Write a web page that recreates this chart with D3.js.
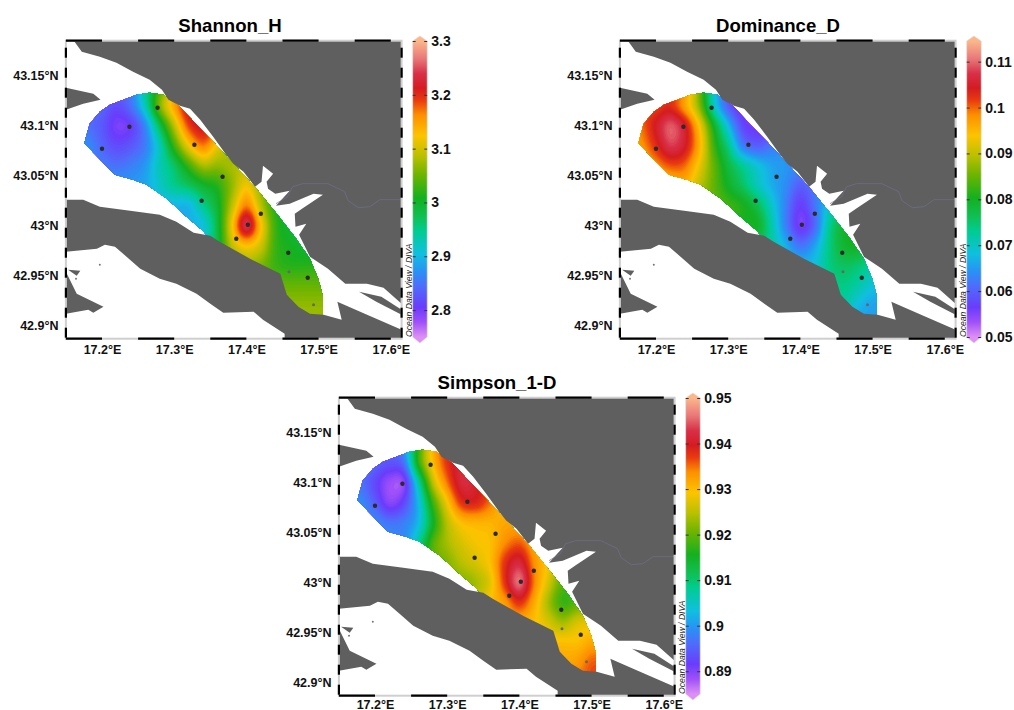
<!DOCTYPE html>
<html>
<head>
<meta charset="utf-8">
<script src="https://cdn.jsdelivr.net/npm/d3@7"></script>
<style>
    body { margin: 0; background: #fff; }
    text { font-family: "Liberation Sans", Arial, sans-serif; }
</style>
</head>
<body>
<svg id="chart" width="1014" height="710"></svg>
<script>
// Axis ticks
const lonTicks = [17.2, 17.3, 17.4, 17.5, 17.6];
const latTicks = [43.15, 43.1, 43.05, 43, 42.95, 42.9];

// Titles and colorbars
const titles = ["Shannon_H", "Dominance_D", "Simpson_1-D"];
const shannonTicks = [3.3, 3.2, 3.1, 3, 2.9, 2.8];
const dominanceTicks = [0.11, 0.1, 0.09, 0.08, 0.07, 0.06, 0.05];
const simpsonTicks = [0.95, 0.94, 0.93, 0.92, 0.91, 0.9, 0.89];
const shannonRange = [2.75, 3.3];
const dominanceRange = [0.05, 0.1145];
const simpsonRange = [0.885, 0.95];

// Sampling stations
const stationLon = [17.277, 17.238, 17.200, 17.328, 17.367, 17.338, 17.420, 17.402, 17.386, 17.458, 17.459, 17.485, 17.493];
const stationLat = [43.118, 43.099, 43.077, 43.081, 43.049, 43.025, 43.012, 43.001, 42.987, 42.973, 42.954, 42.948, 42.921];
const faintStations = [10, 12];

// Coast outlines, [lon, lat]
const landNorth = [[17.161,43.185],[17.172,43.174],[17.197,43.169],[17.220,43.163],[17.243,43.154],[17.266,43.146],[17.283,43.136],[17.292,43.126],[17.308,43.120],[17.322,43.117],[17.336,43.106],[17.354,43.089],[17.373,43.070],[17.382,43.062],[17.396,43.054],[17.412,43.039],[17.421,43.044],[17.423,43.060],[17.437,43.052],[17.428,43.044],[17.430,43.037],[17.440,43.032],[17.460,43.035],[17.441,43.020],[17.460,43.022],[17.493,43.032],[17.506,43.031],[17.477,43.017],[17.467,43.012],[17.468,42.999],[17.483,43.002],[17.473,42.991],[17.488,42.969],[17.513,42.957],[17.537,42.942],[17.567,42.942],[17.590,42.938],[17.615,42.922],[17.615,43.185]];
const landPeninsula = [[17.150,43.026],[17.174,43.026],[17.197,43.019],[17.239,43.015],[17.280,43.011],[17.303,43.004],[17.327,42.993],[17.350,42.990],[17.363,42.984],[17.405,42.967],[17.447,42.952],[17.456,42.931],[17.472,42.919],[17.488,42.912],[17.507,42.911],[17.532,42.906],[17.526,42.924],[17.564,42.912],[17.615,42.896],[17.615,42.887],[17.453,42.887],[17.453,42.892],[17.423,42.906],[17.410,42.914],[17.368,42.913],[17.350,42.922],[17.331,42.932],[17.303,42.942],[17.280,42.947],[17.253,42.957],[17.234,42.969],[17.218,42.979],[17.204,42.981],[17.193,42.977],[17.150,42.974]];
const landWest = [[17.150,43.138],[17.188,43.132],[17.198,43.126],[17.174,43.122],[17.150,43.116]];
const landSouthWest = [[17.150,42.954],[17.165,42.932],[17.202,42.919],[17.188,42.913],[17.181,42.916],[17.150,42.912]];
const landIslet = [[17.153,42.956],[17.170,42.955],[17.165,42.950]];
const landEastWedge = [[17.556,42.934],[17.587,42.929],[17.615,42.916],[17.615,42.911],[17.580,42.924]];
const rocksLon = [17.164, 17.197];
const rocksLat = [42.947, 42.961];
const border = [[17.441,43.022],[17.457,43.029],[17.464,43.039],[17.478,43.042],[17.513,43.042],[17.536,43.034],[17.541,43.025],[17.555,43.018],[17.571,43.019],[17.585,43.026],[17.615,43.026]];

// Area the gridded field is valid in
const fieldArea = [[17.176,43.084],[17.183,43.102],[17.197,43.114],[17.211,43.121],[17.248,43.131],[17.266,43.133],[17.285,43.131],[17.308,43.119],[17.331,43.101],[17.354,43.084],[17.377,43.066],[17.414,43.037],[17.442,43.012],[17.467,42.989],[17.488,42.967],[17.500,42.946],[17.506,42.929],[17.506,42.911],[17.483,42.909],[17.451,42.926],[17.442,42.949],[17.405,42.964],[17.363,42.981],[17.350,42.987],[17.338,42.996],[17.317,43.009],[17.290,43.027],[17.262,43.041],[17.243,43.046],[17.218,43.051],[17.176,43.082]];

// Field grids: rows go north to south
const gridLon = [17.16, 17.18, 17.20, 17.22, 17.24, 17.26, 17.28, 17.30, 17.32, 17.34, 17.36, 17.38, 17.40, 17.42, 17.44, 17.46, 17.48, 17.50, 17.52];
const gridLat = [43.14, 43.12, 43.10, 43.08, 43.06, 43.04, 43.02, 43.00, 42.98, 42.96, 42.94, 42.92, 42.90];
const shannonGrid = [
    [2.86,2.85,2.85,2.84,2.86,2.95,3.03,3.12,3.20,3.22,3.20,3.18,3.15,3.10,3.05,3.05,3.05,3.05,3.05],
    [2.86,2.85,2.84,2.82,2.85,2.93,3.06,3.15,3.22,3.23,3.20,3.18,3.15,3.10,3.05,3.05,3.05,3.05,3.05],
    [2.87,2.85,2.83,2.80,2.81,2.87,2.98,3.09,3.19,3.22,3.19,3.15,3.12,3.08,3.05,3.05,3.05,3.05,3.05],
    [2.88,2.87,2.84,2.82,2.83,2.86,2.93,3.03,3.12,3.17,3.12,3.08,3.07,3.06,3.05,3.05,3.05,3.05,3.05],
    [2.88,2.87,2.86,2.85,2.86,2.88,2.93,2.97,3.03,3.08,3.07,3.08,3.09,3.07,3.05,3.05,3.05,3.05,3.05],
    [2.88,2.88,2.88,2.88,2.88,2.89,2.92,2.95,2.97,3.00,3.02,3.07,3.12,3.07,3.03,3.02,3.02,3.02,3.02],
    [2.89,2.89,2.89,2.89,2.89,2.89,2.90,2.90,2.90,2.95,3.00,3.09,3.17,3.09,3.02,3.01,3.01,3.01,3.01],
    [2.89,2.89,2.89,2.89,2.89,2.89,2.90,2.90,2.90,2.91,2.99,3.12,3.24,3.13,3.03,3.00,3.00,3.00,3.00],
    [2.90,2.90,2.90,2.90,2.90,2.90,2.90,2.90,2.91,2.93,2.99,3.09,3.13,3.10,3.03,3.01,3.00,3.00,3.00],
    [2.92,2.92,2.92,2.92,2.92,2.92,2.92,2.93,2.95,2.97,3.00,3.04,3.07,3.06,3.03,3.02,3.02,3.02,3.02],
    [2.95,2.95,2.95,2.95,2.95,2.95,2.95,2.96,2.98,3.00,3.02,3.04,3.05,3.05,3.05,3.05,3.05,3.05,3.05],
    [2.97,2.97,2.97,2.97,2.97,2.97,2.97,2.98,3.00,3.02,3.04,3.06,3.07,3.07,3.07,3.07,3.07,3.07,3.07],
    [2.98,2.98,2.98,2.98,2.98,2.98,2.98,2.99,3.01,3.03,3.05,3.07,3.08,3.08,3.08,3.08,3.08,3.08,3.08]
];
const dominanceGrid = [
    [.100,.102,.104,.104,.099,.086,.070,.061,.057,.056,.056,.058,.060,.062,.064,.066,.066,.066,.066],
    [.101,.102,.102,.103,.097,.087,.071,.060,.056,.056,.056,.058,.060,.062,.064,.066,.066,.066,.066],
    [.098,.100,.105,.1095,.105,.094,.080,.068,.058,.056,.056,.058,.060,.062,.064,.066,.066,.066,.066],
    [.096,.098,.103,.108,.105,.096,.083,.074,.063,.060,.062,.064,.065,.066,.067,.068,.068,.068,.068],
    [.094,.095,.098,.101,.100,.093,.085,.078,.073,.069,.066,.065,.064,.066,.068,.070,.070,.070,.070],
    [.092,.092,.093,.094,.095,.090,.085,.080,.076,.071,.067,.064,.060,.063,.068,.072,.072,.072,.072],
    [.088,.088,.088,.088,.088,.087,.085,.083,.081,.077,.070,.063,.057,.062,.070,.076,.077,.077,.077],
    [.085,.085,.085,.085,.085,.085,.084,.082,.080,.080,.072,.063,.056,.061,.073,.079,.080,.080,.080],
    [.082,.082,.082,.082,.082,.082,.081,.080,.078,.076,.072,.067,.062,.066,.074,.079,.080,.078,.078],
    [.078,.078,.078,.078,.078,.078,.077,.076,.074,.073,.071,.069,.068,.069,.074,.076,.075,.073,.073],
    [.074,.074,.074,.074,.074,.074,.074,.073,.072,.071,.070,.070,.070,.071,.073,.074,.072,.069,.069],
    [.072,.072,.072,.072,.072,.072,.072,.071,.071,.070,.070,.070,.070,.070,.071,.072,.068,.066,.066],
    [.070,.070,.070,.070,.070,.070,.070,.070,.069,.069,.069,.068,.068,.068,.068,.068,.066,.066,.066]
];
const simpsonGrid = [
    [.900,.898,.897,.895,.901,.917,.931,.938,.942,.942,.940,.938,.935,.932,.930,.930,.930,.930,.930],
    [.899,.898,.896,.894,.897,.917,.930,.938,.942,.943,.941,.938,.935,.932,.930,.930,.930,.930,.930],
    [.899,.897,.893,.889,.890,.907,.925,.935,.942,.941,.938,.935,.933,.932,.930,.930,.930,.930,.930],
    [.900,.899,.895,.890,.893,.903,.918,.929,.938,.939,.935,.930,.931,.931,.930,.930,.930,.930,.930],
    [.900,.899,.899,.897,.898,.903,.915,.925,.930,.931,.931,.932,.932,.931,.930,.930,.930,.930,.930],
    [.900,.900,.900,.900,.900,.908,.919,.924,.927,.929,.930,.934,.936,.932,.928,.926,.926,.926,.926],
    [.905,.905,.905,.905,.908,.915,.920,.922,.925,.927,.930,.938,.942,.934,.929,.924,.924,.924,.924],
    [.910,.910,.910,.910,.912,.917,.921,.922,.922,.924,.928,.938,.946,.935,.927,.920,.920,.920,.920],
    [.915,.915,.915,.915,.916,.918,.920,.921,.923,.926,.930,.933,.938,.932,.924,.918,.920,.922,.922],
    [.920,.920,.920,.920,.920,.921,.922,.923,.925,.928,.931,.932,.932,.930,.927,.924,.927,.928,.928],
    [.924,.924,.924,.924,.924,.925,.926,.927,.928,.930,.931,.932,.932,.931,.930,.930,.930,.932,.932],
    [.928,.928,.928,.928,.928,.928,.929,.930,.930,.931,.932,.932,.932,.932,.932,.932,.933,.936,.936],
    [.930,.930,.930,.930,.930,.930,.930,.931,.931,.932,.933,.934,.934,.934,.934,.934,.935,.937,.937]
];

// Colorbar stops, 0 = bottom and 1 = top of the bar
const colorStops = [0, 0.05, 0.10, 0.17, 0.22, 0.28, 0.36, 0.41, 0.47, 0.55, 0.61, 0.68, 0.75, 0.80, 0.84, 0.89, 0.94, 1];
const colorValues = ["#dc8ff5", "#a050f8", "#6a3cfb", "#4f6cfb", "#2a90f5", "#10bfe0", "#00cc90", "#10bf50", "#14b020", "#70b400", "#b8c000", "#fcc400", "#fc9000", "#e83a10", "#d41c20", "#d83048", "#e87878", "#fbb78a"];
const rampColor = d3.scaleLinear().domain(colorStops).range(colorValues).interpolate(d3.interpolateRgb);

const panels = [
    { title: titles[0], grid: shannonGrid, ticks: shannonTicks, range: shannonRange, dx: 0, dy: 0, lonPad: 6 },
    { title: titles[1], grid: dominanceGrid, ticks: dominanceTicks, range: dominanceRange, dx: 554, dy: 0, lonPad: 6 },
    { title: titles[2], grid: simpsonGrid, ticks: simpsonTicks, range: simpsonRange, dx: 273, dy: 357, lonPad: 4.5 }
];

const svg = d3.select("#chart");

// Map scales, shared by all panels (each panel group is translated)
const xScale = d3.scaleLinear().domain([17.15, 17.615]).range([65.9, 401.6]);
const yScale = d3.scaleLinear().domain([42.887, 43.185]).range([338.7, 40.7]);
const outline = d3.line().x(d => xScale(d[0])).y(d => yScale(d[1]));

function cubic(a, b, c, d, t) {
    return 0.5 * (2 * b + (c - a) * t + (2 * a - 5 * b + 4 * c - d) * t * t + (3 * b - a - 3 * c + d) * t * t * t);
}

// Resample the read grid finer so the contours come out smooth
const refine = 5;
function refineGrid(grid) {
    const ny = grid.length, nx = grid[0].length;
    const w = (nx - 1) * refine + 1, h = (ny - 1) * refine + 1;
    const at = (r, c) => grid[Math.max(0, Math.min(ny - 1, r))][Math.max(0, Math.min(nx - 1, c))];
    const out = new Array(w * h);
    for (let j = 0; j < h; j++) {
        const r = Math.floor(j / refine), tr = j / refine - r;
        for (let i = 0; i < w; i++) {
            const c = Math.floor(i / refine), tc = i / refine - c;
            const col = [-1, 0, 1, 2].map(k => cubic(at(r + k, c - 1), at(r + k, c), at(r + k, c + 1), at(r + k, c + 2), tc));
            out[j * w + i] = cubic(col[0], col[1], col[2], col[3], tr);
        }
    }
    return { values: out, w: w, h: h };
}

const dLon = gridLon[1] - gridLon[0];
const dLat = gridLat[0] - gridLat[1];
const contourPath = d3.geoPath(d3.geoTransform({
    point: function(x, y) {
        this.stream.point(
            xScale(gridLon[0] + (x - 0.5) / refine * dLon),
            yScale(gridLat[0] - (y - 0.5) / refine * dLat)
        );
    }
}));

panels.forEach(function(p, n) {
    const g = svg.append("g").attr("transform", `translate(${p.dx},${p.dy})`);

    // Title
    g.append("text")
        .attr("x", n === 0 ? 230 : 224)
        .attr("y", 32)
        .attr("text-anchor", "middle")
        .attr("font-size", 18.6)
        .attr("font-weight", "bold")
        .text(p.title);

    // Field, clipped to its valid area
    const clipId = "field-clip-" + n;
    g.append("clipPath").attr("id", clipId).append("path").attr("d", outline(fieldArea) + "Z");
    const t = v => (v - p.range[0]) / (p.range[1] - p.range[0]);
    const fine = refineGrid(p.grid);
    const thresholds = d3.range(0, 120).map(i => p.range[0] + (p.range[1] - p.range[0]) * i / 120);
    const contours = d3.contours().size([fine.w, fine.h]).thresholds(thresholds)(fine.values);
    g.append("g")
        .attr("clip-path", `url(#${clipId})`)
        .selectAll("path")
        .data(contours)
        .enter()
        .append("path")
        .attr("d", contourPath)
        .attr("fill", d => rampColor(t(d.value)));

    // Land on top of the field
    g.append("g")
        .selectAll("path")
        .data([landNorth, landPeninsula, landWest, landSouthWest, landIslet, landEastWedge])
        .enter()
        .append("path")
        .attr("d", d => outline(d) + "Z")
        .attr("fill", "#5f5f5f");
    g.selectAll(".rock")
        .data(rocksLon)
        .enter()
        .append("circle")
        .attr("class", "rock")
        .attr("cx", d => xScale(d))
        .attr("cy", (d, i) => yScale(rocksLat[i]))
        .attr("r", 1)
        .attr("fill", "#777");
    g.append("path")
        .attr("d", outline(border))
        .attr("fill", "none")
        .attr("stroke", "#70708a")
        .attr("stroke-width", 0.7);

    // Stations
    g.selectAll(".dot")
        .data(stationLon)
        .enter()
        .append("circle")
        .attr("class", "dot")
        .attr("cx", d => xScale(d))
        .attr("cy", (d, i) => yScale(stationLat[i]))
        .attr("r", (d, i) => faintStations.includes(i) ? 1.5 : 2.2)
        .attr("fill", (d, i) => faintStations.includes(i) ? "#666" : "#2b2b2b");

    // Frame: grey box with black dashes
    const [x0, x1] = xScale.range();
    const [y0, y1] = yScale.range();
    g.append("rect")
        .attr("x", x0).attr("y", y1)
        .attr("width", x1 - x0).attr("height", y0 - y1)
        .attr("fill", "none")
        .attr("stroke", "#cfcfcf")
        .attr("stroke-width", 2);
    d3.range(17.15, 17.6, 0.1).forEach(function(lon) {
        [y0, y1].forEach(function(y) {
            g.append("line")
                .attr("x1", xScale(lon)).attr("x2", xScale(lon + 0.05))
                .attr("y1", y).attr("y2", y)
                .attr("stroke", "#000").attr("stroke-width", 2.2);
        });
    });
    d3.range(42.888, 43.17, 0.02).forEach(function(lat) {
        [x0, x1].forEach(function(x) {
            g.append("line")
                .attr("x1", x).attr("x2", x)
                .attr("y1", yScale(lat)).attr("y2", yScale(lat + 0.01))
                .attr("stroke", "#000").attr("stroke-width", 2.2);
        });
    });

    // Axes
    const xAxis = d3.axisBottom(xScale).tickValues(lonTicks).tickFormat(d => d + "°E").tickSize(0).tickPadding(p.lonPad);
    const yAxis = d3.axisLeft(yScale).tickValues(latTicks).tickFormat(d => d + "°N").tickSize(0).tickPadding(7.4);
    [g.append("g").attr("transform", `translate(0,${y0})`).call(xAxis),
     g.append("g").attr("transform", `translate(${x0},0)`).call(yAxis)].forEach(function(a) {
        a.select(".domain").remove();
        a.selectAll("text").attr("font-size", 12.5).attr("font-weight", "bold").attr("font-family", null).attr("fill", "#111");
    });

    // Credit
    g.append("text")
        .attr("transform", "translate(412,337) rotate(-90)")
        .attr("font-size", 8.6)
        .attr("font-style", "italic")
        .attr("fill", "#222")
        .text("Ocean Data View / DIVA");

    // Colorbar
    const barY = d3.scaleLinear().domain(p.range).range([337, 41]);
    const gradId = "bar-grad-" + n;
    const grad = g.append("linearGradient")
        .attr("id", gradId)
        .attr("x1", 0).attr("x2", 0).attr("y1", 1).attr("y2", 0)
        .attr("gradientUnits", "objectBoundingBox");
    // the bar shape runs 6px past each end of the ramp
    const shapeTop = 36, shapeBottom = 343;
    colorStops.forEach(function(s, i) {
        const y = 337 - s * 296;
        grad.append("stop")
            .attr("offset", (shapeBottom - y) / (shapeBottom - shapeTop))
            .attr("stop-color", colorValues[i]);
    });
    g.append("path")
        .attr("d", `M412.7,41 L419.9,${shapeTop} L427.2,41 L427.2,337 L419.9,${shapeBottom} L412.7,337 Z`)
        .attr("fill", `url(#${gradId})`)
        .attr("stroke", "#ddd")
        .attr("stroke-width", 0.6);
    const barAxis = d3.axisRight(barY).tickValues(p.ticks).tickFormat(d => String(d)).tickSize(-14.5).tickPadding(4);
    const bar = g.append("g").attr("transform", "translate(427.2,0)").call(barAxis);
    bar.select(".domain").remove();
    bar.selectAll("line").attr("stroke", "#333").attr("stroke-dasharray", "3 8.5 3");
    bar.selectAll("text")
        .attr("font-size", 14)
        .attr("font-weight", "bold")
        .attr("font-family", null)
        .attr("fill", "#111");
});
</script>
</body>
</html>
